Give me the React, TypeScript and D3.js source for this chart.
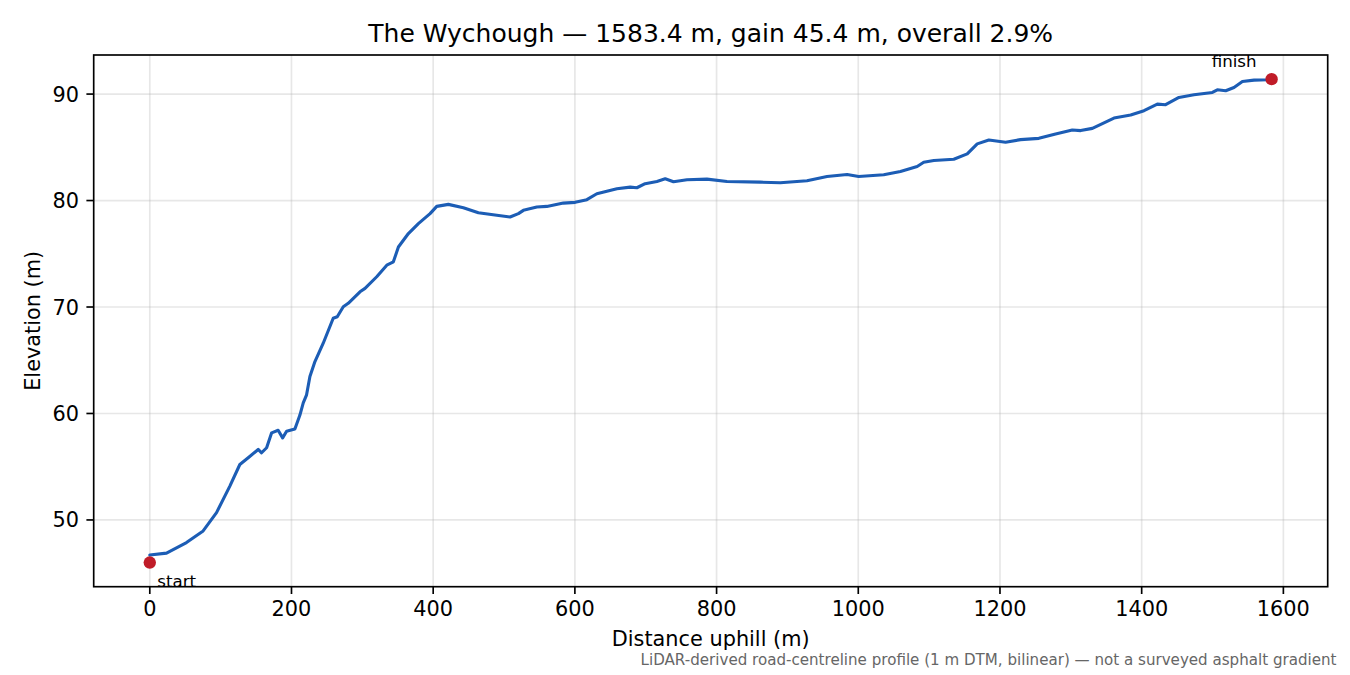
import * as d3 from "d3"

// distance along the climb (m) and elevation (m)
const distM = [
  0, 23.6, 51.8, 75.3, 94.2, 113.0, 127.1, 138.9, 153.0, 157.8, 164.9, 172.0, 181.2, 187.5, 193.1,
  204.8, 211.9, 216.6, 221.3, 226.0, 233.1, 244.8, 258.9, 264.6, 273.1, 280.1, 296.7, 303.8, 320.3,
  334.5, 343.8, 350.9, 365.0, 379.1, 395.6, 405.0, 421.4, 442.6, 463.8, 489.8, 508.5, 520.3, 527.3,
  546.3, 560.4, 583.8, 600.4, 616.9, 631.0, 645.1, 659.3, 678.1, 687.5, 699.2, 715.8, 727.5, 739.2,
  758.2, 786.4, 814.7, 861.7, 889.9, 927.6, 955.9, 984.2, 1000.6, 1035.9, 1059.5, 1083.1, 1092.4,
  1106.6, 1134.8, 1153.8, 1167.9, 1184.3, 1207.9, 1229.0, 1254.9, 1278.5, 1302.1, 1313.9, 1330.4,
  1360.9, 1384.5, 1403.3, 1422.1, 1433.8, 1452.6, 1473.8, 1499.8, 1506.8, 1518.6, 1530.3, 1542.2,
  1558.6, 1577.5, 1583.4,
]
const elevM = [
  46.7, 46.88, 47.88, 48.97, 50.69, 53.18, 55.21, 55.84, 56.62, 56.31, 56.78, 58.18, 58.42, 57.71, 58.33,
  58.55, 59.85, 60.99, 61.75, 63.48, 64.88, 66.6, 68.94, 69.09, 70.03, 70.35, 71.43, 71.75, 72.84,
  73.93, 74.24, 75.64, 76.9, 77.83, 78.77, 79.45, 79.64, 79.33, 78.86, 78.61, 78.45, 78.77, 79.08,
  79.39, 79.45, 79.76, 79.83, 80.08, 80.64, 80.88, 81.11, 81.26, 81.2, 81.58, 81.79, 82.04, 81.76,
  81.95, 82.01, 81.79, 81.73, 81.67, 81.86, 82.26, 82.45, 82.26, 82.42, 82.73, 83.2, 83.6,
  83.76, 83.88, 84.38, 85.32, 85.69, 85.47, 85.72, 85.84, 86.26, 86.63, 86.57, 86.78,
  87.75, 88.03, 88.44, 89.06, 89.0, 89.68, 89.93, 90.15, 90.4, 90.31, 90.62, 91.18,
  91.31, 91.34, 91.4,
]

const endpoints = [
  { label: "start", d: 0, e: 46.0 },
  { label: "finish", d: 1583.4, e: 91.4 },
]

const xTicks = [0, 200, 400, 600, 800, 1000, 1200, 1400, 1600]
const yTicks = [50, 60, 70, 80, 90]

const title = "The Wychough \u2014 1583.4 m, gain 45.4 m, overall 2.9%"
const note = "LiDAR-derived road-centreline profile (1 m DTM, bilinear) \u2014 not a surveyed asphalt gradient"

const W = 1350
const H = 675
const margin = { top: 55, right: 22.3, bottom: 88.3, left: 93.7 }
const FONT = "DejaVu Sans, sans-serif"

export default function App() {
  const iW = W - margin.left - margin.right
  const iH = H - margin.top - margin.bottom
  const span = distM[distM.length - 1] - distM[0]
  const lo = d3.min([...elevM, ...endpoints.map((p) => p.e)]) as number
  const hi = d3.max([...elevM, ...endpoints.map((p) => p.e)]) as number

  const x = d3.scaleLinear().domain([-0.05 * span, span * 1.05]).range([0, iW])
  const y = d3.scaleLinear().domain([lo - 0.05 * (hi - lo), hi + 0.05 * (hi - lo)]).range([iH, 0])

  const pts = distM.map((d, i) => [d, elevM[i]] as [number, number])
  const line = d3
    .line<[number, number]>()
    .x((p) => x(p[0]))
    .y((p) => y(p[1]))

  const tickLen = 7.3
  const pad = 7.3
  const tickFont = 20.83

  return (
    <svg
      width={W}
      height={H}
      style={{ position: "fixed", left: 0, top: 0, background: "#fff" }}
      fontFamily={FONT}
    >
      <rect width={W} height={H} fill="#fff" />
      <text x={margin.left + iW / 2} y={42} textAnchor="middle" fontSize={25} fill="#000">
        {title}
      </text>
      <g transform={`translate(${margin.left},${margin.top})`}>
        {/* grid */}
        {xTicks.map((t) => (
          <line key={"gx" + t} x1={x(t)} x2={x(t)} y1={0} y2={iH} stroke="#b0b0b0" strokeOpacity={0.3} strokeWidth={1.67} />
        ))}
        {yTicks.map((t) => (
          <line key={"gy" + t} x1={0} x2={iW} y1={y(t)} y2={y(t)} stroke="#b0b0b0" strokeOpacity={0.3} strokeWidth={1.67} />
        ))}

        <path
          d={line(pts) ?? ""}
          fill="none"
          stroke="#1c5db5"
          strokeWidth={3.1}
          strokeLinejoin="round"
          strokeLinecap="round"
        />

        {endpoints.map((p) => (
          <circle key={p.label} cx={x(p.d)} cy={y(p.e)} r={6.2} fill="#c01c28" />
        ))}
        <text x={x(endpoints[0].d) + 7.5} y={y(endpoints[0].e) + 24} fontSize={16.67} fill="#000">
          {endpoints[0].label}
        </text>
        <text x={x(endpoints[1].d) - 15} y={y(endpoints[1].e) - 12.6} fontSize={16.67} fill="#000" textAnchor="end">
          {endpoints[1].label}
        </text>

        {/* frame */}
        <rect x={0} y={0} width={iW} height={iH} fill="none" stroke="#000" strokeWidth={1.67} />

        {/* x axis */}
        {xTicks.map((t) => (
          <g key={"tx" + t} transform={`translate(${x(t)},${iH})`}>
            <line y1={0} y2={tickLen} stroke="#000" strokeWidth={1.67} />
            <text y={tickLen + pad + 15.2} textAnchor="middle" fontSize={tickFont} fill="#000">
              {t}
            </text>
          </g>
        ))}
        {/* y axis */}
        {yTicks.map((t) => (
          <g key={"ty" + t} transform={`translate(0,${y(t)})`}>
            <line x1={0} x2={-tickLen} stroke="#000" strokeWidth={1.67} />
            <text x={-tickLen - pad} dy="0.36em" textAnchor="end" fontSize={tickFont} fill="#000">
              {t}
            </text>
          </g>
        ))}
      </g>

      <text x={margin.left + iW / 2} y={646} textAnchor="middle" fontSize={tickFont} fill="#000">
        Distance uphill (m)
      </text>
      <text
        transform={`translate(40,${margin.top + iH / 2}) rotate(-90)`}
        textAnchor="middle"
        fontSize={tickFont}
        fill="#000"
      >
        Elevation (m)
      </text>
      <text x={1336.5} y={665} textAnchor="end" fontSize={15.1} fill="#666">
        {note}
      </text>
    </svg>
  )
}
